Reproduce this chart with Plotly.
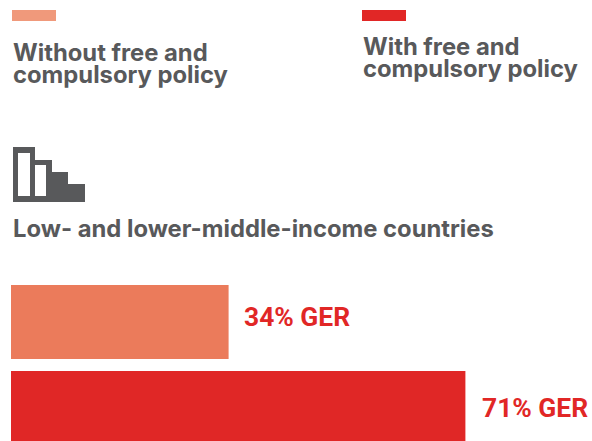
import plotly.graph_objects as go

W, H = 592, 441

# Chart data
categories = ["Without free and compulsory policy", "With free and compulsory policy"]
ger_values = [34, 71]
value_labels = ["34% GER", "71% GER"]
bar_colors = ["#EB7B5B", "#E02726"]
swatch_colors = ["#F0997B", "#E12726"]
heading = "Low- and lower-middle-income countries"

GREY = "#58595B"
TEXT_FONT = "Inter"
PX_PER_UNIT = 6.4
ROW_PX = 84

def px_x(v):
    return v / W

def px_y(v):
    return 1 - v / H

def rect(x0, y0, x1, y1, color):
    return dict(type="rect", xref="paper", yref="paper", layer="above",
                x0=px_x(x0), x1=px_x(x1), y0=px_y(y0), y1=px_y(y1),
                fillcolor=color, line_width=0)

def label(x, y, text, size=23.8, color=GREY, font=TEXT_FONT):
    return dict(xref="paper", yref="paper", x=px_x(x), y=px_y(y), text=f"<b>{text}</b>",
                showarrow=False, xanchor="left", yanchor="middle", borderpad=0, borderwidth=0,
                font=dict(family=font, size=size, color=color))

def value_label(category, value, text, xshift, yshift):
    return dict(xref="x", yref="y", x=value, y=category, text=f"<b>{text}</b>",
                showarrow=False, xanchor="left", yanchor="middle", borderpad=0,
                xshift=xshift, yshift=yshift,
                font=dict(family="Roboto", size=26.4, color="#E12726"))

fig = go.Figure(go.Bar(
    y=categories,
    x=ger_values,
    orientation="h",
    width=[74 / ROW_PX, 70 / ROW_PX],
    marker=dict(color=bar_colors, line_width=0),
    hoverinfo="skip",
))

shapes = [
    rect(12, 10, 56, 21, swatch_colors[0]),
    rect(362, 10, 406, 21, swatch_colors[1]),
    # Stepped bars icon
    rect(13, 147, 35, 202, GREY),
    rect(30, 160, 52, 202, GREY),
    rect(52, 172, 68, 202, GREY),
    rect(68, 184, 85, 202, GREY),
    rect(18, 153, 30, 196, "#FFFFFF"),
    rect(35, 165, 46, 196, "#FFFFFF"),
]

annotations = [
    label(13, 52, "Without free and"),
    label(13, 74, "compulsory policy"),
    label(363, 46, "With free and"),
    label(363, 68, "compulsory policy"),
    label(13, 228, heading),
    value_label(categories[0], ger_values[0], value_labels[0], 14, 5),
    value_label(categories[1], ger_values[1], value_labels[1], 16, -2),
]

fig.update_layout(
    width=W,
    height=H,
    margin=dict(l=0, r=0, t=0, b=0),
    paper_bgcolor="#FFFFFF",
    plot_bgcolor="#FFFFFF",
    showlegend=False,
    shapes=shapes,
    annotations=annotations,
    xaxis=dict(visible=False, range=[-11 / PX_PER_UNIT, (W - 11) / PX_PER_UNIT]),
    yaxis=dict(visible=False, type="category", categoryorder="array", categoryarray=categories,
               range=[(H - 322) / ROW_PX, -322 / ROW_PX]),
)

fig.write_html("out.html", config=dict(displayModeBar=False))
